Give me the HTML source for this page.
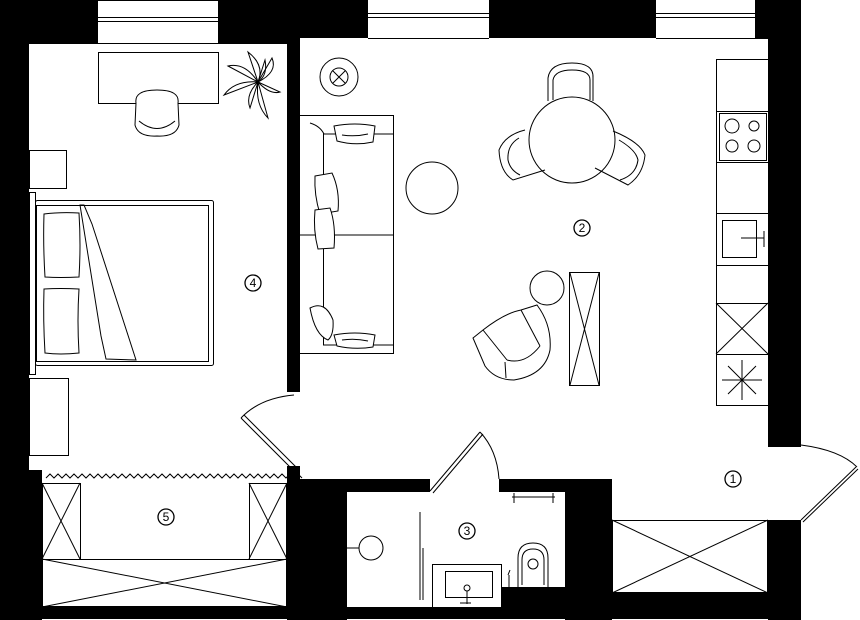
<!DOCTYPE html>
<html><head><meta charset="utf-8"><style>
html,body{margin:0;padding:0;background:#fff;}
svg{display:block;}
text{font-family:"Liberation Sans",sans-serif;font-size:12px;}
</style></head><body>
<svg width="860" height="620" viewBox="0 0 860 620" xmlns="http://www.w3.org/2000/svg">
<rect width="860" height="620" fill="#fff"/>
<g fill="#000">
<rect x="0" y="0" width="98" height="44"/>
<rect x="218" y="0" width="150" height="38"/>
<rect x="218" y="0" width="82" height="44"/>
<rect x="489" y="0" width="167" height="38"/>
<rect x="755" y="0" width="46" height="38"/>
<rect x="0" y="0" width="29" height="620"/>
<rect x="0" y="470" width="42" height="150"/>
<rect x="287" y="38" width="13" height="354"/>
<rect x="287" y="466" width="13" height="154"/>
<rect x="768" y="30" width="33" height="417"/>
<rect x="768" y="520" width="33" height="100"/>
<rect x="0" y="607" width="801" height="12"/>
<rect x="287" y="479" width="60" height="141"/>
<rect x="300" y="479" width="130" height="13"/>
<rect x="499" y="479" width="113" height="13"/>
<rect x="565" y="479" width="47" height="141"/>
<rect x="499" y="587" width="70" height="25"/>
<rect x="600" y="593" width="200" height="26"/>
</g>
<g fill="none" stroke="#000" stroke-width="1">
<line x1="98" y1="0.5" x2="218" y2="0.5"/>
<line x1="98" y1="17.5" x2="218" y2="17.5"/>
<line x1="98" y1="21.5" x2="218" y2="21.5"/>
<line x1="98" y1="43.5" x2="218" y2="43.5"/>
<line x1="368" y1="13.5" x2="489" y2="13.5"/>
<line x1="368" y1="17.5" x2="489" y2="17.5"/>
<line x1="368" y1="38.5" x2="489" y2="38.5"/>
<line x1="656" y1="13.5" x2="755" y2="13.5"/>
<line x1="656" y1="17.5" x2="755" y2="17.5"/>
<line x1="656" y1="38.5" x2="768" y2="38.5"/>
<rect x="98.5" y="52.5" width="120" height="51"/>
<path d="M136 103 Q134 90 157 90 Q180 90 178 103 L179 125 Q176 137 157 136 Q138 137 135 125 Z" fill="#fff"/>
<path d="M139 121 Q157 136 175 121"/>
<path d="M258 82 L228 66 Q245 62 258 82"/>
<path d="M258 82 L248 52 Q265 65 258 82"/>
<path d="M258 82 L265 60 Q268 75 258 82"/>
<path d="M258 82 L272 58 Q278 72 258 82"/>
<path d="M258 82 L280 92 Q270 95 258 82"/>
<path d="M258 82 L268 118 Q255 105 258 82"/>
<path d="M258 82 L250 108 Q245 95 258 82"/>
<path d="M258 82 L224 95 Q235 80 258 82"/>
<rect x="29.5" y="150.5" width="37" height="38"/>
<rect x="29.5" y="378.5" width="39" height="77"/>
<rect x="29.5" y="192.5" width="6" height="182"/>
<rect x="35.5" y="200.5" width="178" height="165" rx="2"/>
<rect x="36.5" y="205.5" width="172" height="156"/>
<path d="M44 214 Q60 212 79 213 Q81 245 79 277 Q60 278 45 277 Q43 245 44 214 Z"/>
<path d="M44 289 Q60 288 79 289 Q77 320 79 353 Q60 355 45 353 Q43 320 44 289 Z"/>
<path d="M80 205 L84 205 L92 224 L136 360 L106 359 L101 336 Z"/>
<path d="M241 418 L293 470 M244 415 L296 467"/>
<path d="M241 418 Q260 398 294 395"/>
<circle cx="339" cy="77" r="19"/>
<circle cx="339" cy="77" r="9"/>
<path d="M333 71 L345 83 M345 71 L333 83"/>
<path d="M300 115.5 H393.5 V353.5 H300"/>
<path d="M323.5 134 V345"/>
<path d="M323 134 H393"/>
<path d="M323 345 H393"/>
<path d="M300 235 H393"/>
<path d="M310 123 Q320 126 324 134"/>
<path d="M334 126 Q355 122 375 126 L373 142 Q355 146 337 141 Z" fill="#fff"/>
<path d="M342 135 Q355 137 368 134"/>
<path d="M334 335 Q355 331 375 335 L373 347 Q355 350 337 346 Z" fill="#fff"/>
<path d="M342 340 Q355 338 368 341"/>
<path d="M315 176 L332 173 Q340 190 338 211 L320 214 Q314 195 315 176 Z" fill="#fff"/>
<path d="M315 210 L330 208 Q336 225 334 248 L318 249 Q313 230 315 210 Z" fill="#fff"/>
<path d="M310 308 Q325 300 333 320 Q334 335 328 340 Q315 335 310 308 Z" fill="#fff"/>
<circle cx="432" cy="188" r="26"/>
<path d="M548 101 V78 Q550 63 572 63 Q594 63 593 78 V101"/>
<path d="M553 100 V80 Q555 70 572 70 Q590 70 590 80 V100"/>
<path d="M525 130 Q505 135 499 150 Q500 172 513 180 L545 170"/>
<path d="M519 138 Q507 145 508 160 Q510 170 520 175"/>
<path d="M613 131 Q640 142 645 155 Q643 175 628 185 L595 168"/>
<path d="M619 140 Q636 150 638 160 Q636 175 620 180"/>
<circle cx="572" cy="140" r="43"/>
<rect x="716.5" y="59.5" width="52" height="346"/>
<path d="M716 111.5 H768 M716 162.5 H768 M716 213.5 H768 M716 265.5 H768 M716 303.5 H768 M716 354.5 H768"/>
<rect x="719.5" y="113.5" width="47" height="47"/>
<circle cx="732" cy="126" r="7"/><circle cx="754" cy="126" r="5"/>
<circle cx="732" cy="146" r="6"/><circle cx="754" cy="146" r="6"/>
<rect x="722.5" y="220.5" width="34" height="37"/>
<path d="M741 238 H764 M764 231 V247"/>
<path d="M716 303 L768 354 M768 303 L716 354"/>
<path d="M742 360 V400 M722 380 H762 M728 366 L756 394 M756 366 L728 394"/>
<path d="M473 338 L483 330 Q505 313 521 310 L537 305 Q552 325 550 350 Q545 375 514 380 Q495 380 485 366 Z"/>
<path d="M483 330 L507 360 M521 310 L540 346"/>
<path d="M507 360 Q525 365 540 346"/>
<path d="M505 362 L506 378"/>
<circle cx="547" cy="288" r="17"/>
<rect x="569.5" y="272.5" width="30" height="113"/>
<path d="M570 273 L599 385 M599 273 L570 385"/>
<path d="M46 478 l4 -4 l4 4 l4 -4 l4 4 l4 -4 l4 4 l4 -4 l4 4 l4 -4 l4 4 l4 -4 l4 4 l4 -4 l4 4 l4 -4 l4 4 l4 -4 l4 4 l4 -4 l4 4 l4 -4 l4 4 l4 -4 l4 4 l4 -4 l4 4 l4 -4 l4 4 l4 -4 l4 4 l4 -4 l4 4 l4 -4 l4 4 l4 -4 l4 4 l4 -4 l4 4 l4 -4 l4 4 l4 -4 l4 4 l4 -4 l4 4 l4 -4 l4 4 l4 -4 l4 4 l4 -4 l4 4 l4 -4 l4 4 l4 -4 l4 4 l4 -4 l4 4 l4 -4 l4 4 l4 -4 l4 4 l4 -4 l4 4 l4 -4 l4 4"/>
<rect x="42.5" y="483.5" width="38" height="76"/>
<path d="M42 483 L80 559 M80 483 L42 559"/>
<rect x="249.5" y="483.5" width="37" height="76"/>
<path d="M249 483 L287 559 M287 483 L249 559"/>
<rect x="42.5" y="559.5" width="244" height="47"/>
<path d="M42 559 L287 607 M287 559 L42 607"/>
<path d="M430 491 L480 432 M433 493 L483 434"/>
<path d="M480 432 Q497 450 499 479"/>
<path d="M512 497 H555 M514 493 V503 M553 493 V503"/>
<rect x="432.5" y="564.5" width="69" height="43" fill="#fff"/>
<rect x="445.5" y="571.5" width="47" height="26"/>
<circle cx="467" cy="588" r="3"/>
<path d="M467 591 V604 M460 603 H471"/>
<path d="M518 587 V558 Q518 543 533 543 Q548 543 548 558 V587"/>
<path d="M522 585 V560 Q522 549 533 549 Q544 549 544 560 V585"/>
<ellipse cx="533" cy="564" rx="5" ry="5"/>
<path d="M509 587 V575 M508 575 L510 570"/>
<circle cx="371" cy="548" r="12"/>
<path d="M347 548 H359"/>
<path d="M420 512 V600 M423 548 V600"/>
<rect x="612.5" y="520.5" width="155" height="72"/>
<path d="M612 520 L768 593 M768 520 L612 593"/>
<path d="M801 520 L856 467 M803 522 L858 469"/>
<path d="M801 445 Q840 450 857 467"/>
<circle cx="733" cy="479" r="8" stroke-width="1.3"/>
<circle cx="582" cy="228" r="8" stroke-width="1.3"/>
<circle cx="467" cy="531" r="8" stroke-width="1.3"/>
<circle cx="253" cy="283" r="8" stroke-width="1.3"/>
<circle cx="166" cy="517" r="8" stroke-width="1.3"/>
</g>
<g fill="#000" text-anchor="middle">
<text x="733" y="483">1</text>
<text x="582" y="232">2</text>
<text x="467" y="535">3</text>
<text x="253" y="287">4</text>
<text x="166" y="521">5</text>
</g>
</svg>
</body></html>
